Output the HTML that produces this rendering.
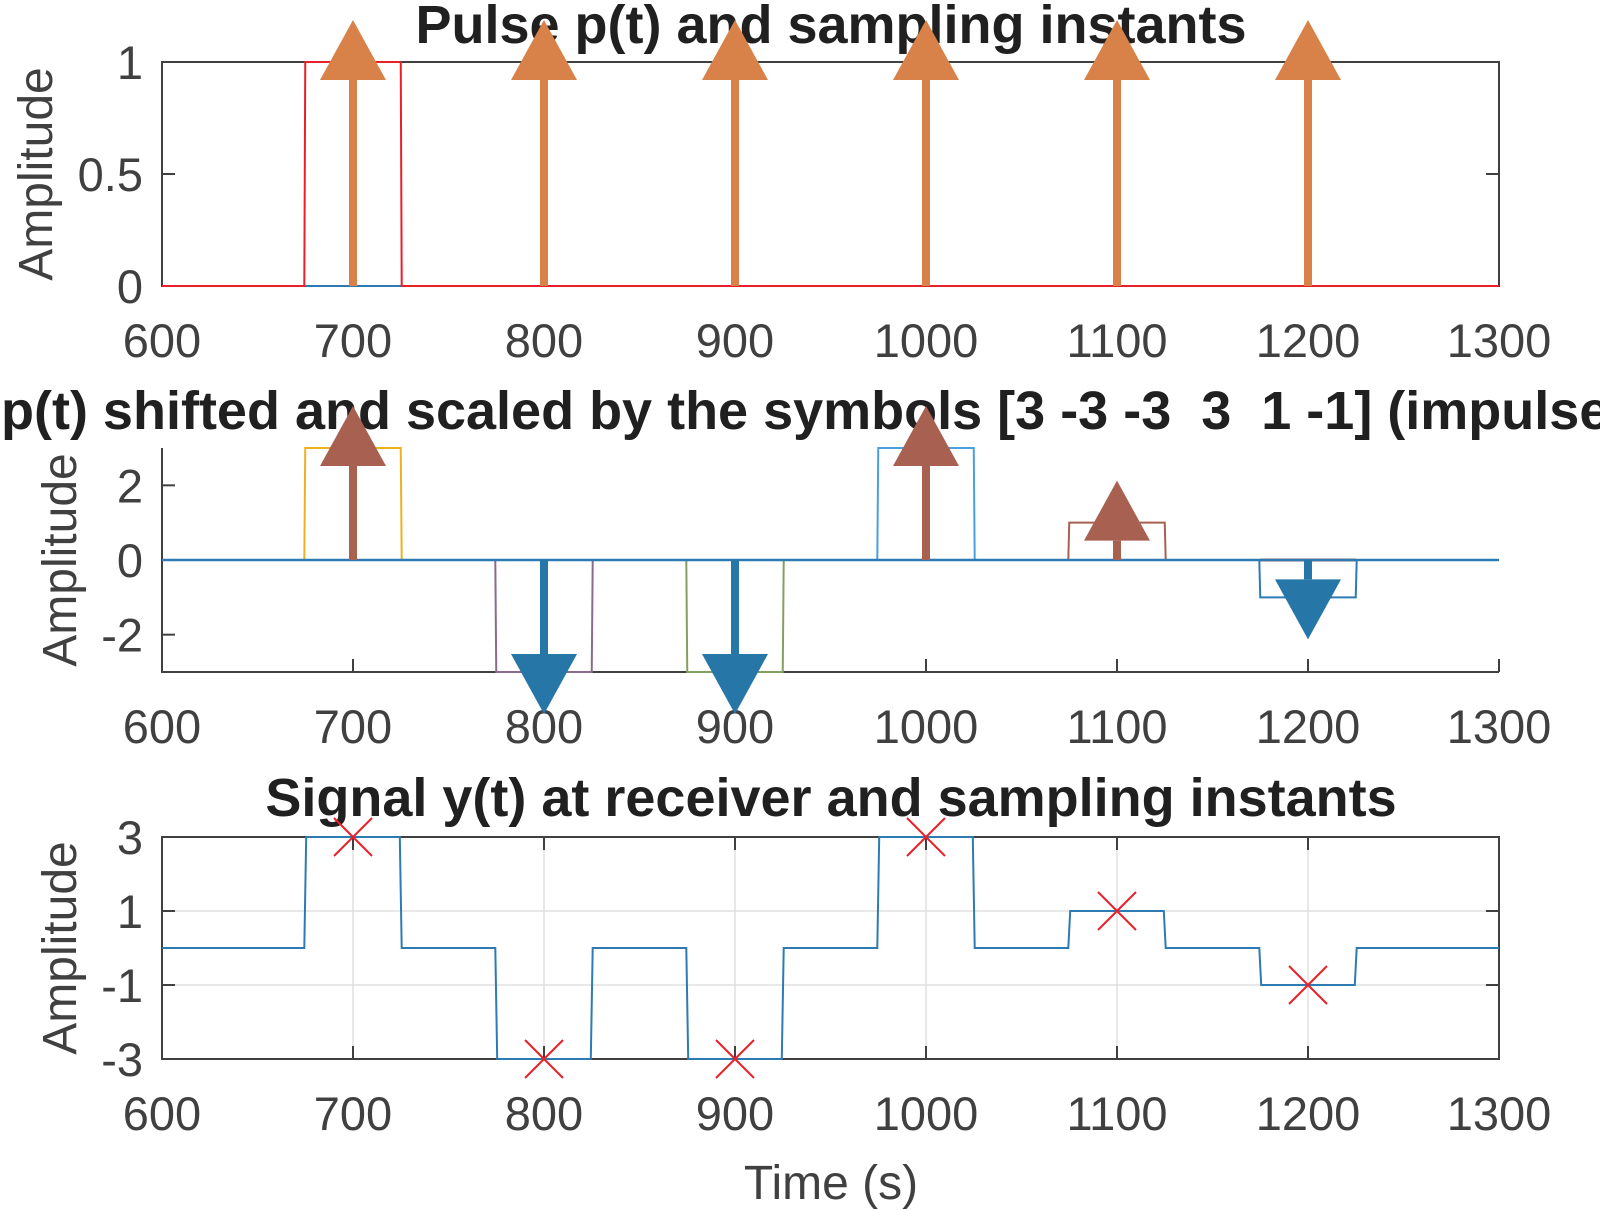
<!DOCTYPE html>
<html><head><meta charset="utf-8"><style>
body{margin:0;background:#fff}
svg{display:block;font-family:"Liberation Sans",sans-serif}
text{white-space:pre}
</style></head><body>
<svg id="chart" width="1600" height="1210" viewBox="0 0 1600 1210" xmlns="http://www.w3.org/2000/svg">
<g id="g"></g>
</svg>
<script>
const sampleTimes = [700, 800, 900, 1000, 1100, 1200];
const symbols = [3, -3, -3, 3, 1, -1];
const pulseWidth = 50;
const xTicks = [600, 700, 800, 900, 1000, 1100, 1200, 1300];
const yTicks1 = [0, 0.5, 1];
const yTickLabels1 = ["0", "0.5", "1"];
const yTicks2 = [-2, 0, 2];
const yTicks3 = [-3, -1, 1, 3];
const rectColors = ["#edb120", "#8c6a8c", "#84a060", "#4aa0dc", "#a86050", "#2e7ab2"];

const NS = "http://www.w3.org/2000/svg";
const G = document.getElementById('g');
function el(tag, attrs, parent, text) {
  const e = document.createElementNS(NS, tag);
  for (const k in attrs) e.setAttribute(k, attrs[k]);
  if (text !== undefined) e.textContent = text;
  (parent || G).appendChild(e);
  return e;
}
const X0 = 162, X1 = 1499;
const sx = v => X0 + (v - 600) / 700 * (X1 - X0);
function mkY(top, bot, lo, hi) { return v => bot - (v - lo) / (hi - lo) * (bot - top); }
const panels = [
  {top: 62, bot: 286, lo: 0, hi: 1, yt: yTicks1, yl: yTickLabels1, box: true, grid: false, tb: 43},
  {top: 448, bot: 672, lo: -3, hi: 3, yt: yTicks2, yl: yTicks2.map(String), box: false, grid: false, tb: 429},
  {top: 837, bot: 1059, lo: -3, hi: 3, yt: yTicks3, yl: yTicks3.map(String), box: true, grid: true, tb: 816}
];
const titles = ["Pulse p(t) and sampling instants",
  "p(t) shifted and scaled by the symbols [3 -3 -3  3  1 -1] (impulses)",
  "Signal y(t) at receiver and sampling instants"];
const ylabX = [36, 60, 60];

panels.forEach((p, i) => {
  const sy = mkY(p.top, p.bot, p.lo, p.hi);
  p.sy = sy;
  const ax = el('g', {}, G);
  
  
  if (p.grid) {
    xTicks.forEach(t => { const l = el('line', {x1: sx(t), x2: sx(t), y1: p.top, y2: p.bot, stroke: '#e0e0e0', 'stroke-width': 1.5}, ax);
        });
    p.yt.forEach(t => { const l = el('line', {x1: X0, x2: X1, y1: sy(t), y2: sy(t), stroke: '#e0e0e0', 'stroke-width': 1.5}, ax);
        });
  }
  const axl = el('path', {d: p.box ? `M${X0},${p.top}H${X1}V${p.bot}H${X0}Z` : `M${X0},${p.top}V${p.bot}H${X1}`, fill: 'none', stroke: '#404040', 'stroke-width': 2}, ax);
   
  xTicks.forEach(t => {
    el('line', {x1: sx(t), x2: sx(t), y1: p.bot, y2: p.bot - 13, stroke: '#404040', 'stroke-width': 2}, ax);
    if (p.box) el('line', {x1: sx(t), x2: sx(t), y1: p.top, y2: p.top + 13, stroke: '#404040', 'stroke-width': 2}, ax);
    const tx = el('text', {x: sx(t), y: p.bot + 71, 'text-anchor': 'middle', 'font-size': 47, fill: '#404040'}, ax, String(t));
     
  });
  p.yt.forEach((t, k) => {
    el('line', {x1: X0, x2: X0 + 13, y1: sy(t), y2: sy(t), stroke: '#404040', 'stroke-width': 2}, ax);
    if (p.box) el('line', {x1: X1, x2: X1 - 13, y1: sy(t), y2: sy(t), stroke: '#404040', 'stroke-width': 2}, ax);
    const tx = el('text', {x: X0 - 19, y: sy(t) + 17, 'text-anchor': 'end', 'font-size': 47, fill: '#404040'}, ax, p.yl[k]);
     
  });
  const cy = (p.top + p.bot) / 2;
  const yl = el('text', {x: ylabX[i], y: cy, transform: `rotate(-90 ${ylabX[i]} ${cy})`, 'text-anchor': 'middle', 'font-size': 48, fill: '#404040', dy: 16}, ax, 'Amplitude');
   
  const tt = i === 1
    ? el('text', {x: 1, y: p.tb, 'font-size': 54, 'font-weight': 'bold', fill: '#202020'}, ax, titles[i])
    : el('text', {x: 831, y: p.tb, 'text-anchor': 'middle', 'font-size': 54, 'font-weight': 'bold', fill: '#202020'}, ax, titles[i]);
   
});

function arrow(x, v, sy, color, parent) {
  const y0 = sy(0), yv = sy(v), dir = v >= 0 ? -1 : 1;
  const tip = yv + dir * 42, base = tip - dir * 60;
  const g = el('g', {}, parent);
   
  el('line', {x1: x, x2: x, y1: y0, y2: base, stroke: color, 'stroke-width': 8}, g);
  el('path', {d: `M${x},${tip}L${x - 33},${base}L${x + 33},${base}Z`, fill: color}, g);
}

(() => {
  const p = panels[0], sy = p.sy;
  const g = el('g', {}, G);
   
  const t0 = sampleTimes[0];
  el('line', {x1: sx(600), x2: sx(1300), y1: sy(0), y2: sy(0), stroke: '#2e7ab2', 'stroke-width': 2}, g);
  el('path', {d: `M${sx(600)},${sy(0)}H${sx(t0 - pulseWidth / 2 - 0.5)}L${sx(t0 - pulseWidth / 2)},${sy(1)}H${sx(t0 + pulseWidth / 2)}L${sx(t0 + pulseWidth / 2 + 0.5)},${sy(0)}H${sx(1300)}`, fill: 'none', stroke: '#e8202a', 'stroke-width': 2}, g);
  sampleTimes.forEach(t => arrow(sx(t), 1, sy, '#d8824a', g));
})();

(() => {
  const p = panels[1], sy = p.sy;
  const g = el('g', {}, G);
   
  sampleTimes.forEach((t, i) => {
    const r = el('path', {d: `M${sx(600)},${sy(0)}H${sx(t - 25.5)}L${sx(t - 25)},${sy(symbols[i])}H${sx(t + 25)}L${sx(t + 25.5)},${sy(0)}H${sx(1300)}`, fill: 'none', stroke: rectColors[i], 'stroke-width': 2}, g);
     
  });
  el('path', {d: `M${sx(1175)},${sy(0)}H${sx(1225)}`, stroke: '#a86050', 'stroke-width': 3}, g);
  el('line', {x1: sx(600), x2: sx(1300), y1: sy(0), y2: sy(0), stroke: '#2e7ab2', 'stroke-width': 2.5}, g);
  sampleTimes.forEach((t, i) => arrow(sx(t), symbols[i], sy, symbols[i] >= 0 ? '#a86050' : '#2676a8', g));
})();

(() => {
  const p = panels[2], sy = p.sy;
  const g = el('g', {}, G);
   
  let d = `M${sx(600)},${sy(0)}`;
  sampleTimes.forEach((t, i) => {
    d += `H${sx(t - 25.5)}L${sx(t - 24.5)},${sy(symbols[i])}H${sx(t + 24.5)}L${sx(t + 25.5)},${sy(0)}`;
  });
  d += `H${sx(1300)}`;
  const line = el('path', {d, fill: 'none', stroke: '#2e7ab2', 'stroke-width': 2}, g);
   
  sampleTimes.forEach((t, i) => {
    const x = sx(t), y = sy(symbols[i]), s = 19;
    const m = el('path', {d: `M${x - s},${y - s}L${x + s},${y + s}M${x - s},${y + s}L${x + s},${y - s}`, stroke: '#e8202a', 'stroke-width': 2}, g);
     
  });
  const xt = el('text', {x: 831, y: 1199, 'text-anchor': 'middle', 'font-size': 48, fill: '#404040'}, G, 'Time (s)');
   
})();
</script>
</body></html>
